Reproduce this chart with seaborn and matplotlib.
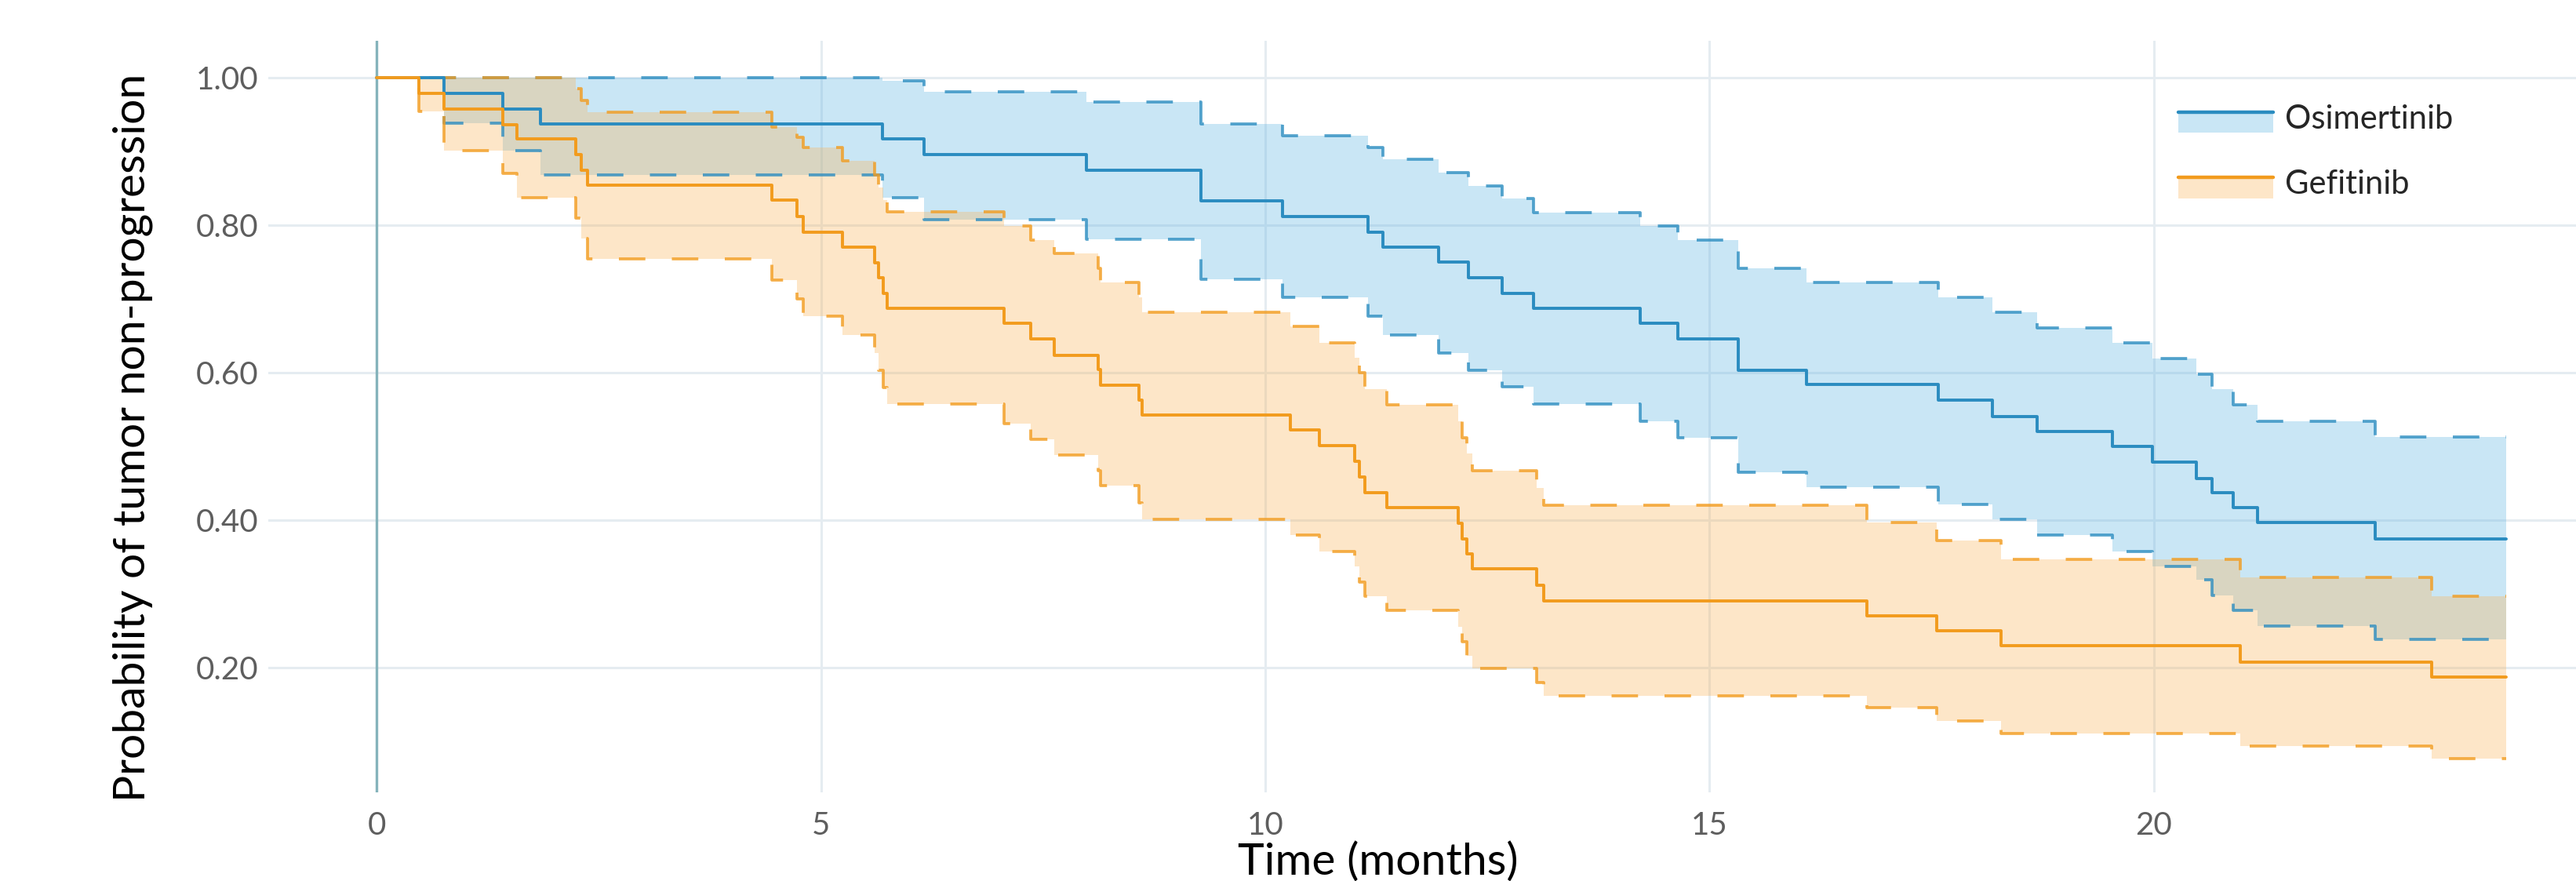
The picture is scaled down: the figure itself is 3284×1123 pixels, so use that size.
import matplotlib
matplotlib.use("Agg")
import matplotlib.pyplot as plt
from matplotlib.legend_handler import HandlerBase
from matplotlib.patches import Rectangle
from matplotlib.lines import Line2D
import numpy as np
import pandas as pd
import seaborn as sns

# last follow-up time (months), curves are held flat up to here
t_end = 23.96

# Osimertinib: step times, KM estimate, upper and lower CI
osi_t = [0, 0.76, 1.42, 1.84, 5.69, 6.16, 7.99, 9.28, 10.19, 11.16, 11.32, 11.95, 12.29, 12.67, 13.02,
         14.22, 14.64, 15.32, 16.09, 17.57, 18.18, 18.69, 19.53, 19.98, 20.48, 20.65, 20.89, 21.17, 22.49]
osi_est = [1.0, 0.979, 0.957, 0.937, 0.917, 0.896, 0.875, 0.833, 0.812, 0.790, 0.770, 0.750, 0.729, 0.708, 0.687,
           0.667, 0.646, 0.603, 0.584, 0.563, 0.540, 0.520, 0.500, 0.479, 0.457, 0.437, 0.417, 0.397, 0.375]
osi_hi = [1.0, 1.0, 1.0, 1.0, 0.996, 0.981, 0.967, 0.937, 0.921, 0.905, 0.889, 0.871, 0.853, 0.836, 0.817,
          0.799, 0.780, 0.742, 0.722, 0.702, 0.682, 0.661, 0.640, 0.619, 0.598, 0.578, 0.556, 0.534, 0.513]
osi_lo = [1.0, 0.938, 0.901, 0.868, 0.837, 0.807, 0.781, 0.727, 0.702, 0.677, 0.651, 0.627, 0.603, 0.581, 0.558,
          0.534, 0.512, 0.465, 0.445, 0.421, 0.401, 0.380, 0.358, 0.337, 0.319, 0.298, 0.278, 0.257, 0.238]

# Gefitinib
gef_t = [0, 0.48, 0.76, 1.42, 1.58, 2.24, 2.30, 2.37, 4.45, 4.73, 4.80, 5.24, 5.60, 5.65, 5.70, 5.75,
         7.06, 7.36, 7.63, 8.12, 8.15, 8.58, 8.61, 10.28, 10.61, 11.01, 11.06, 11.12, 11.37,
         12.17, 12.22, 12.27, 12.33, 13.05, 13.13, 16.77, 17.56, 18.28, 20.97, 23.13]
gef_est = [1.0, 0.979, 0.957, 0.936, 0.917, 0.896, 0.875, 0.854, 0.834, 0.812, 0.790, 0.770, 0.749, 0.729, 0.708, 0.687,
           0.667, 0.646, 0.623, 0.604, 0.583, 0.563, 0.543, 0.522, 0.501, 0.480, 0.459, 0.437, 0.417,
           0.396, 0.375, 0.354, 0.334, 0.312, 0.291, 0.270, 0.250, 0.230, 0.208, 0.187]
gef_hi = [1.0, 1.0, 1.0, 1.0, 1.0, 0.985, 0.969, 0.953, 0.933, 0.919, 0.905, 0.887, 0.868, 0.851, 0.834, 0.818,
          0.799, 0.780, 0.762, 0.742, 0.722, 0.702, 0.682, 0.663, 0.640, 0.620, 0.600, 0.578, 0.556,
          0.534, 0.512, 0.490, 0.467, 0.444, 0.420, 0.397, 0.372, 0.347, 0.322, 0.297]
gef_lo = [1.0, 0.954, 0.901, 0.870, 0.837, 0.810, 0.782, 0.754, 0.726, 0.700, 0.677, 0.651, 0.627, 0.603, 0.580, 0.557,
          0.531, 0.510, 0.488, 0.467, 0.447, 0.424, 0.401, 0.380, 0.358, 0.337, 0.316, 0.297, 0.278,
          0.255, 0.235, 0.216, 0.199, 0.180, 0.162, 0.146, 0.128, 0.111, 0.094, 0.077]

arms = ["Osimertinib", "Gefitinib"]
line_colors = {"Osimertinib": "#2a8cc0", "Gefitinib": "#f29b1d"}
fill_colors = {"Osimertinib": (0.40, 0.72, 0.89, 0.35), "Gefitinib": (0.98, 0.71, 0.35, 0.33)}


def arm_frame(t, est, hi, lo):
    return pd.DataFrame({
        "time": list(t) + [t_end],
        "est": list(est) + [est[-1]],
        "hi": list(hi) + [hi[-1]],
        "lo": list(lo) + [lo[-1]],
    })


frames = {
    "Osimertinib": arm_frame(osi_t, osi_est, osi_hi, osi_lo),
    "Gefitinib": arm_frame(gef_t, gef_est, gef_hi, gef_lo),
}

sns.set_theme(style="white")
plt.rcParams["font.family"] = ["Lato", "DejaVu Sans"]

fig = plt.figure(figsize=(32.84, 11.23), dpi=100)
ax = fig.add_axes([0.1041, 0.1006, 0.8959, 0.8531])

ax.grid(True, color="#e5ecf1", lw=2.2, zorder=0)
ax.axvline(0, color="#85b3bb", lw=2.4, zorder=1)

for arm in arms:
    df = frames[arm]
    ax.fill_between(df["time"], df["lo"], df["hi"], step="post",
                    color=fill_colors[arm], lw=0, zorder=2)
for arm in arms:
    df = frames[arm]
    for col in ["hi", "lo"]:
        sns.lineplot(data=df, x="time", y=col, ax=ax, color=line_colors[arm], alpha=0.8,
                     drawstyle="steps-post", estimator=None, lw=2.7,
                     linestyle=(0, (9, 9)), legend=False, zorder=3)
    sns.lineplot(data=df, x="time", y="est", ax=ax, color=line_colors[arm],
                 drawstyle="steps-post", estimator=None, lw=2.8, legend=False, zorder=4)

ax.set_xlim(-1.22, 24.75)
ax.set_ylim(0.031, 1.05)
ax.set_xticks([0, 5, 10, 15, 20])
ax.set_yticks([0.2, 0.4, 0.6, 0.8, 1.0])
ax.set_yticklabels(["0.20", "0.40", "0.60", "0.80", "1.00"])
ax.tick_params(axis="both", length=0, labelsize=29, labelcolor="#5e5e5e")
ax.tick_params(axis="x", pad=17)
ax.tick_params(axis="y", pad=9)
for s in ax.spines.values():
    s.set_visible(False)

ax.set_xlabel("Time (months)", fontsize=41, color="black")
ax.set_ylabel("Probability of tumor non-progression", fontsize=41, color="black")
ax.xaxis.set_label_coords(0.481, -0.066)
ax.yaxis.set_label_coords(-0.050, 0.472)


class BandHandler(HandlerBase):
    def create_artists(self, legend, orig, xd, yd, w, h, fontsize, trans):
        top = yd + h * 0.85
        r = Rectangle((xd, yd - h * 0.15), w, h, facecolor=orig.get_facecolor(),
                      edgecolor="none", transform=trans)
        ln = Line2D([xd, xd + w], [top, top], color=orig.band_line, lw=3.2, transform=trans)
        return [r, ln]


handles = []
for arm in arms:
    p = Rectangle((0, 0), 1, 1, facecolor=fill_colors[arm])
    p.band_line = line_colors[arm]
    handles.append(p)

ax.legend(handles, arms, handler_map={Rectangle: BandHandler()}, loc="upper left",
          bbox_to_anchor=(0.815, 0.955), frameon=False, fontsize=30,
          handlelength=2.9, handleheight=0.6, handletextpad=0.35, labelspacing=1.1)

fig.savefig("out.png", dpi=100)
